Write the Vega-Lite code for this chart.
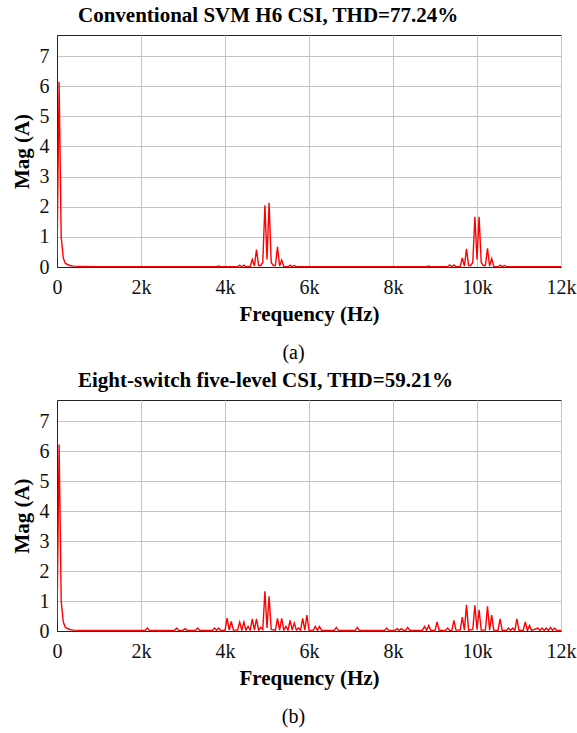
{
  "$schema": "https://vega.github.io/schema/vega-lite/v6.json",
  "padding": {"left": 10, "top": 4, "right": 12, "bottom": 4},
  "background": "white",
  "datasets": {
    "a": [
      {"f": 0, "m": 0.25}, {"f": 50, "m": 6.15}, {"f": 100, "m": 1.0}, {"f": 150, "m": 0.3}, {"f": 200, "m": 0.12}, {"f": 300, "m": 0.05}, {"f": 400, "m": 0.03}, {"f": 600, "m": 0.02},
      {"f": 1000, "m": 0.01}, {"f": 2000, "m": 0.01}, {"f": 3000, "m": 0.01}, {"f": 3800, "m": 0.01}, {"f": 3850, "m": 0.03}, {"f": 3900, "m": 0.01},
      {"f": 4300, "m": 0.01}, {"f": 4350, "m": 0.06}, {"f": 4400, "m": 0.01}, {"f": 4450, "m": 0.06}, {"f": 4500, "m": 0.01},
      {"f": 4550, "m": 0.02}, {"f": 4600, "m": 0.01}, {"f": 4650, "m": 0.25}, {"f": 4700, "m": 0.03}, {"f": 4750, "m": 0.58}, {"f": 4800, "m": 0.05},
      {"f": 4850, "m": 0.05}, {"f": 4900, "m": 0.15}, {"f": 4950, "m": 2.05}, {"f": 5000, "m": 0.25}, {"f": 5050, "m": 2.13}, {"f": 5100, "m": 0.15},
      {"f": 5150, "m": 0.05}, {"f": 5200, "m": 0.05}, {"f": 5250, "m": 0.67}, {"f": 5300, "m": 0.03}, {"f": 5350, "m": 0.23}, {"f": 5400, "m": 0.02},
      {"f": 5500, "m": 0.01}, {"f": 5550, "m": 0.06}, {"f": 5600, "m": 0.01}, {"f": 5650, "m": 0.05}, {"f": 5700, "m": 0.01},
      {"f": 6000, "m": 0.01}, {"f": 7000, "m": 0.01}, {"f": 8000, "m": 0.01}, {"f": 8800, "m": 0.01}, {"f": 8850, "m": 0.03}, {"f": 8900, "m": 0.01},
      {"f": 9300, "m": 0.01}, {"f": 9350, "m": 0.07}, {"f": 9400, "m": 0.01}, {"f": 9450, "m": 0.07}, {"f": 9500, "m": 0.01},
      {"f": 9600, "m": 0.02}, {"f": 9650, "m": 0.3}, {"f": 9700, "m": 0.03}, {"f": 9750, "m": 0.6}, {"f": 9800, "m": 0.05},
      {"f": 9850, "m": 0.05}, {"f": 9900, "m": 0.15}, {"f": 9950, "m": 1.67}, {"f": 10000, "m": 0.25}, {"f": 10050, "m": 1.67}, {"f": 10100, "m": 0.15},
      {"f": 10150, "m": 0.05}, {"f": 10200, "m": 0.05}, {"f": 10250, "m": 0.62}, {"f": 10300, "m": 0.03}, {"f": 10350, "m": 0.28}, {"f": 10400, "m": 0.02},
      {"f": 10500, "m": 0.01}, {"f": 10550, "m": 0.06}, {"f": 10600, "m": 0.01}, {"f": 10650, "m": 0.05}, {"f": 10700, "m": 0.01},
      {"f": 11000, "m": 0.01}, {"f": 12000, "m": 0.01}
    ],
    "b": [
      {"f": 0, "m": 0.25}, {"f": 50, "m": 6.22}, {"f": 100, "m": 1.0}, {"f": 150, "m": 0.3}, {"f": 200, "m": 0.12}, {"f": 300, "m": 0.05}, {"f": 400, "m": 0.03}, {"f": 600, "m": 0.02},
      {"f": 1000, "m": 0.02}, {"f": 1500, "m": 0.02}, {"f": 2100, "m": 0.02}, {"f": 2150, "m": 0.1}, {"f": 2200, "m": 0.02},
      {"f": 2800, "m": 0.02}, {"f": 2850, "m": 0.1}, {"f": 2900, "m": 0.02}, {"f": 3000, "m": 0.02}, {"f": 3050, "m": 0.08}, {"f": 3100, "m": 0.02},
      {"f": 3300, "m": 0.02}, {"f": 3350, "m": 0.1}, {"f": 3400, "m": 0.02}, {"f": 3700, "m": 0.02}, {"f": 3750, "m": 0.1}, {"f": 3800, "m": 0.02}, {"f": 3850, "m": 0.1}, {"f": 3900, "m": 0.02},
      {"f": 4000, "m": 0.02}, {"f": 4050, "m": 0.43}, {"f": 4100, "m": 0.03}, {"f": 4150, "m": 0.32}, {"f": 4200, "m": 0.03},
      {"f": 4300, "m": 0.03}, {"f": 4350, "m": 0.3}, {"f": 4400, "m": 0.03}, {"f": 4450, "m": 0.3}, {"f": 4500, "m": 0.03},
      {"f": 4550, "m": 0.15}, {"f": 4600, "m": 0.03}, {"f": 4650, "m": 0.4}, {"f": 4700, "m": 0.03}, {"f": 4750, "m": 0.4}, {"f": 4800, "m": 0.03},
      {"f": 4850, "m": 0.12}, {"f": 4900, "m": 0.05}, {"f": 4950, "m": 1.32}, {"f": 5000, "m": 0.1}, {"f": 5050, "m": 1.16}, {"f": 5100, "m": 0.05},
      {"f": 5200, "m": 0.03}, {"f": 5250, "m": 0.42}, {"f": 5300, "m": 0.03}, {"f": 5350, "m": 0.42}, {"f": 5400, "m": 0.03},
      {"f": 5450, "m": 0.15}, {"f": 5500, "m": 0.03}, {"f": 5550, "m": 0.35}, {"f": 5600, "m": 0.03}, {"f": 5650, "m": 0.27}, {"f": 5700, "m": 0.03},
      {"f": 5750, "m": 0.1}, {"f": 5800, "m": 0.03}, {"f": 5850, "m": 0.42}, {"f": 5900, "m": 0.03}, {"f": 5950, "m": 0.53}, {"f": 6000, "m": 0.03},
      {"f": 6100, "m": 0.02}, {"f": 6150, "m": 0.15}, {"f": 6200, "m": 0.02}, {"f": 6250, "m": 0.15}, {"f": 6300, "m": 0.02},
      {"f": 6600, "m": 0.02}, {"f": 6650, "m": 0.12}, {"f": 6700, "m": 0.02}, {"f": 7100, "m": 0.02}, {"f": 7150, "m": 0.12}, {"f": 7200, "m": 0.02},
      {"f": 7800, "m": 0.02}, {"f": 7850, "m": 0.1}, {"f": 7900, "m": 0.02}, {"f": 8050, "m": 0.02}, {"f": 8100, "m": 0.08}, {"f": 8150, "m": 0.02}, {"f": 8200, "m": 0.08}, {"f": 8250, "m": 0.02},
      {"f": 8300, "m": 0.02}, {"f": 8350, "m": 0.12}, {"f": 8400, "m": 0.02}, {"f": 8700, "m": 0.02}, {"f": 8750, "m": 0.15}, {"f": 8800, "m": 0.02}, {"f": 8850, "m": 0.18}, {"f": 8900, "m": 0.02},
      {"f": 9000, "m": 0.02}, {"f": 9050, "m": 0.3}, {"f": 9100, "m": 0.02}, {"f": 9250, "m": 0.02}, {"f": 9300, "m": 0.1}, {"f": 9350, "m": 0.02},
      {"f": 9400, "m": 0.02}, {"f": 9450, "m": 0.35}, {"f": 9500, "m": 0.03}, {"f": 9600, "m": 0.03}, {"f": 9650, "m": 0.46}, {"f": 9700, "m": 0.03},
      {"f": 9750, "m": 0.87}, {"f": 9800, "m": 0.03}, {"f": 9900, "m": 0.05}, {"f": 9950, "m": 0.86}, {"f": 10000, "m": 0.05}, {"f": 10050, "m": 0.71}, {"f": 10100, "m": 0.03},
      {"f": 10200, "m": 0.03}, {"f": 10250, "m": 0.82}, {"f": 10300, "m": 0.03}, {"f": 10350, "m": 0.53}, {"f": 10400, "m": 0.03},
      {"f": 10500, "m": 0.02}, {"f": 10550, "m": 0.4}, {"f": 10600, "m": 0.02}, {"f": 10700, "m": 0.02}, {"f": 10750, "m": 0.1}, {"f": 10800, "m": 0.02}, {"f": 10850, "m": 0.1}, {"f": 10900, "m": 0.02},
      {"f": 10950, "m": 0.4}, {"f": 11000, "m": 0.02}, {"f": 11100, "m": 0.02}, {"f": 11150, "m": 0.3}, {"f": 11200, "m": 0.02}, {"f": 11250, "m": 0.18}, {"f": 11300, "m": 0.02},
      {"f": 11450, "m": 0.1}, {"f": 11500, "m": 0.02}, {"f": 11550, "m": 0.1}, {"f": 11600, "m": 0.02}, {"f": 11650, "m": 0.1}, {"f": 11700, "m": 0.02},
      {"f": 11750, "m": 0.12}, {"f": 11800, "m": 0.02}, {"f": 11850, "m": 0.1}, {"f": 11900, "m": 0.02}, {"f": 12000, "m": 0.02}
    ]
  },
  "vconcat": [
    {
      "title": {"text": "(a)", "orient": "bottom", "anchor": "middle", "fontSize": 20, "fontWeight": "normal", "font": "Liberation Serif, Times New Roman, DejaVu Serif, serif", "color": "#000", "offset": 18},
      "vconcat": [
        {
          "width": 504, "height": 232,
          "title": {"text": "Conventional SVM H6 CSI, THD=77.24%", "anchor": "start", "frame": "group", "dx": 21, "offset": 9},
          "data": {"name": "a"},
          "mark": {"type": "line", "color": "#ff0000", "strokeWidth": 1.4, "clip": true},
          "encoding": {
            "x": {"field": "f", "type": "quantitative", "scale": {"domain": [0, 12000], "nice": false}, "axis": {"title": "Frequency (Hz)", "values": [0, 2000, 4000, 6000, 8000, 10000, 12000], "labelExpr": "datum.value == 0 ? '0' : (datum.value / 1000) + 'k'"}},
            "y": {"field": "m", "type": "quantitative", "scale": {"domain": [0, 7.7], "nice": false}, "axis": {"title": "Mag (A)", "values": [0, 1, 2, 3, 4, 5, 6, 7]}}
          }
        }
      ]
    },
    {
      "title": {"text": "(b)", "orient": "bottom", "anchor": "middle", "fontSize": 20, "fontWeight": "normal", "font": "Liberation Serif, Times New Roman, DejaVu Serif, serif", "color": "#000", "offset": 18},
      "vconcat": [
        {
          "width": 504, "height": 231,
          "title": {"text": "Eight-switch five-level CSI, THD=59.21%", "anchor": "start", "frame": "group", "dx": 21, "offset": 9},
          "data": {"name": "b"},
          "mark": {"type": "line", "color": "#ff0000", "strokeWidth": 1.4, "clip": true},
          "encoding": {
            "x": {"field": "f", "type": "quantitative", "scale": {"domain": [0, 12000], "nice": false}, "axis": {"title": "Frequency (Hz)", "values": [0, 2000, 4000, 6000, 8000, 10000, 12000], "labelExpr": "datum.value == 0 ? '0' : (datum.value / 1000) + 'k'"}},
            "y": {"field": "m", "type": "quantitative", "scale": {"domain": [0, 7.7], "nice": false}, "axis": {"title": "Mag (A)", "values": [0, 1, 2, 3, 4, 5, 6, 7]}}
          }
        }
      ]
    }
  ],
  "spacing": 6,
  "config": {
    "font": "Liberation Serif, Times New Roman, DejaVu Serif, serif",
    "view": {"stroke": "#222222", "strokeWidth": 1},
    "title": {"font": "Liberation Serif, Times New Roman, DejaVu Serif, serif", "fontSize": 21, "fontWeight": "bold", "color": "#000000"},
    "axis": {
      "labelFont": "Liberation Serif, Times New Roman, DejaVu Serif, serif", "labelFontSize": 20, "labelColor": "#111111",
      "titleFont": "Liberation Serif, Times New Roman, DejaVu Serif, serif", "titleFontSize": 21, "titleFontWeight": "bold", "titleColor": "#000000",
      "gridColor": "#c4c4c4", "gridOpacity": 1, "gridWidth": 1,
      "domainColor": "#222222", "ticks": false, "labelPadding": 8, "titlePadding": 6
    },
    "axisX": {"labelPadding": 10, "titlePadding": 6, "labelFlush": false},
    "axisY": {"titlePadding": 7}
  }
}
